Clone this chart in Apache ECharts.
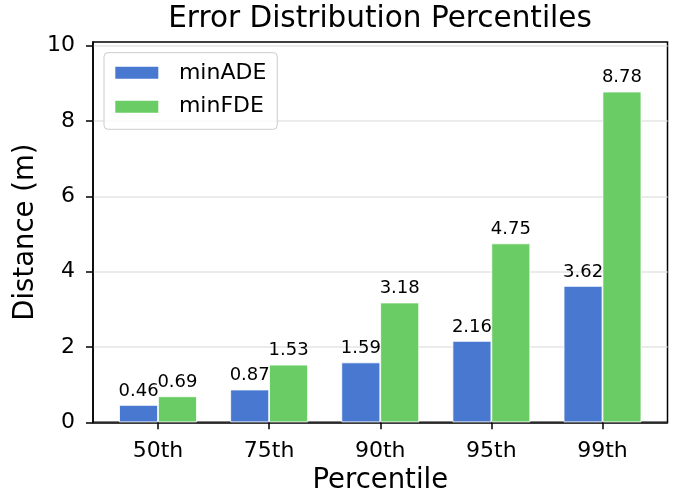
<!DOCTYPE html>
<html>
<head>
<meta charset="utf-8">
<script src="https://cdn.jsdelivr.net/npm/echarts@6/dist/echarts.min.js"></script>
<style>
  html, body { margin: 0; padding: 0; background: #fff; }
  #chart { width: 681px; height: 495px; }
</style>
</head>
<body>
<div id="chart"></div>
<script>
// Percentile levels and the error values at each level
const percentiles = ['50th', '75th', '90th', '95th', '99th'];
const minADE = [0.46, 0.87, 1.59, 2.16, 3.62];
const minFDE = [0.69, 1.53, 3.18, 4.75, 8.78];
const yTicks = [0, 2, 4, 6, 8, 10];

const FONT = 'DejaVu Sans';
const positions = percentiles.map((_, i) => i);
const yMax = Math.max(...minFDE, ...minADE) * 1.15;

const chart = echarts.init(document.getElementById('chart'), null, { renderer: 'canvas' });

const labelCfg = {
  show: true,
  position: 'top',
  distance: 5,
  fontFamily: FONT,
  fontSize: 18,
  color: '#000',
  formatter: p => p.value[1].toFixed(2)
};

chart.setOption({
  animation: false,
  backgroundColor: '#fff',
  title: {
    text: 'Error Distribution Percentiles',
    left: 380,
    textAlign: 'center',
    top: 4,
    padding: 0,
    textStyle: { fontFamily: FONT, fontSize: 29.5, fontWeight: 'normal', color: '#000' }
  },
  legend: {
    orient: 'vertical',
    left: 104,
    top: 52.7,
    icon: 'rect',
    itemWidth: 45,
    itemHeight: 14,
    itemGap: 11.9,
    padding: [9.1, 11, 11.6, 9.3],
    backgroundColor: 'rgba(255,255,255,0.8)',
    borderColor: '#cccccc',
    borderWidth: 1,
    borderRadius: 4,
    textStyle: { fontFamily: FONT, fontSize: 22, lineHeight: 22, color: '#000', padding: [0, 0, 0, 14.6] },
    data: ['minADE', 'minFDE']
  },
  grid: {
    left: 93,
    right: 13.5,
    top: 42,
    bottom: 72.7,
    outerBoundsMode: 'none',
    show: true,
    borderColor: '#000',
    borderWidth: 1.5,
    backgroundColor: 'transparent'
  },
  xAxis: {
    type: 'value',
    min: -0.585,
    max: 4.585,
    name: 'Percentile',
    nameLocation: 'middle',
    nameGap: 44,
    nameTextStyle: { fontFamily: FONT, fontSize: 27.5, color: '#000' },
    axisLine: { show: true, onZero: false, lineStyle: { color: '#000', width: 1.5 } },
    axisTick: { show: true, customValues: positions, length: 7, lineStyle: { color: '#000', width: 1.5 } },
    axisLabel: {
      customValues: positions,
      margin: 18,
      fontFamily: FONT,
      fontSize: 22,
      color: '#000',
      formatter: v => percentiles[Math.round(v)]
    },
    splitLine: { show: false }
  },
  yAxis: {
    type: 'value',
    min: 0,
    max: yMax,
    interval: 2,
    name: 'Distance (m)',
    nameLocation: 'middle',
    nameRotate: 90,
    nameGap: 53,
    nameMoveOverlap: false,
    nameTextStyle: { fontFamily: FONT, fontSize: 27.5, color: '#000' },
    axisLine: { show: true, onZero: false, lineStyle: { color: '#000', width: 1.5 } },
    axisTick: { show: true, customValues: yTicks, length: 7, lineStyle: { color: '#000', width: 1.5 } },
    axisLabel: {
      customValues: yTicks,
      margin: 18,
      fontFamily: FONT,
      fontSize: 22,
      color: '#000'
    },
    splitLine: { show: true, lineStyle: { color: '#e5e5e5', width: 1.5 } }
  },
  series: [
    {
      name: 'minADE',
      type: 'bar',
      barWidth: '35%',
      barGap: '0%',
      data: minADE.map((v, i) => [positions[i], v]),
      itemStyle: { color: '#4878d0', borderColor: '#ffffff', borderWidth: 0.8 },
      label: labelCfg
    },
    {
      name: 'minFDE',
      type: 'bar',
      barWidth: '35%',
      barGap: '0%',
      data: minFDE.map((v, i) => [positions[i], v]),
      itemStyle: { color: '#6acc64', borderColor: '#ffffff', borderWidth: 0.8 },
      label: labelCfg
    }
  ]
});
</script>
</body>
</html>
